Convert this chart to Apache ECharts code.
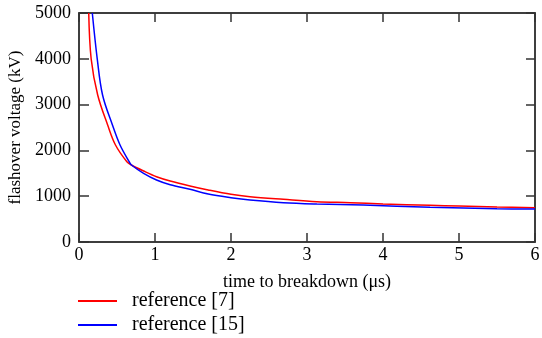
<!DOCTYPE html>
<html>
<head>
<meta charset="utf-8">
<script src="https://cdn.jsdelivr.net/npm/echarts@6/dist/echarts.min.js"></script>
<style>
  html, body { margin: 0; padding: 0; background: #fff; }
  #chart { width: 542px; height: 338px; }
</style>
</head>
<body>
<div id="chart"></div>
<script>
// values
const ref7T = [0.128, 0.16, 0.246, 0.377, 0.48, 0.63, 0.69, 0.85, 1.02, 1.2, 1.46, 1.7, 2.0, 2.25, 2.69, 3.13, 3.57, 4.0, 4.62, 5.0, 5.5, 6.0];
const ref7V = [5000, 4000, 3210, 2555, 2118, 1753, 1681, 1550, 1426, 1332, 1223, 1135, 1041, 990, 932, 880, 858, 830, 801, 785, 764, 750];

const ref15T = [0.175, 0.24, 0.31, 0.44, 0.54, 0.66, 0.69, 0.85, 1.02, 1.2, 1.46, 1.7, 2.0, 2.25, 2.69, 3.13, 3.74, 4.62, 5.5, 6.0];
const ref15V = [5000, 4000, 3210, 2555, 2118, 1753, 1681, 1500, 1354, 1250, 1150, 1048, 968, 917, 858, 830, 808, 758, 727, 720];

const seriesNames = ['reference [7]', 'reference [15]'];

const font = 'Liberation Serif';
const axisColor = '#333';

const chart = echarts.init(document.getElementById('chart'));

const zip = (xs, ys) => xs.map((x, i) => [x, ys[i]]);

// plain frame axes (top / right) with inside ticks, no labels
const frameAxis = (extra) => Object.assign({
  type: 'value',
  show: true,
  axisLine: {show: true, onZero: false, lineStyle: {color: axisColor, width: 1.5}},
  axisTick: {show: true, inside: true, length: 9, lineStyle: {color: axisColor, width: 1.5}},
  axisLabel: {show: false},
  splitLine: {show: false}
}, extra);

const option = {
  animation: false,
  grid: {
    left: 79, right: 7, top: 13, bottom: 96,
    outerBoundsMode: 'none', containLabel: false,
    show: true, borderColor: axisColor, borderWidth: 1.5
  },
  textStyle: {fontFamily: font},
  legend: {
    orient: 'vertical',
    left: 78,
    top: 291,
    padding: 0,
    itemWidth: 39,
    itemHeight: 2,
    itemGap: 4,
    icon: 'rect',
    textStyle: {fontFamily: font, fontSize: 20, color: '#000', padding: [0, 0, 0, 10], lineHeight: 20},
    data: seriesNames
  },
  xAxis: [
    {
      type: 'value', min: 0, max: 6, interval: 1,
      name: 'time to breakdown (μs)',
      nameLocation: 'middle',
      nameGap: 31,
      nameTextStyle: {fontFamily: font, fontSize: 18, color: '#000'},
      axisLine: {onZero: false, lineStyle: {color: axisColor, width: 1.5}},
      axisTick: {show: true, inside: true, length: 9, lineStyle: {color: axisColor, width: 1.5}},
      axisLabel: {fontFamily: font, fontSize: 18, color: '#000', margin: 4, showMaxLabel: true},
      splitLine: {show: false}
    },
    frameAxis({min: 0, max: 6, interval: 1, position: 'top'})
  ],
  yAxis: [
    {
      type: 'value', min: 0, max: 5000, interval: 1000,
      name: 'flashover voltage (kV)',
      nameLocation: 'middle',
      nameGap: 52,
      nameTextStyle: {fontFamily: font, fontSize: 17, color: '#000'},
      axisLine: {show: true, onZero: false, lineStyle: {color: axisColor, width: 1.5}},
      axisTick: {show: true, inside: true, length: 10, lineStyle: {color: axisColor, width: 1.5}},
      axisLabel: {fontFamily: font, fontSize: 18, color: '#000', margin: 8, formatter: (v) => String(v)},
      splitLine: {show: false}
    },
    frameAxis({min: 0, max: 5000, interval: 1000, position: 'right'})
  ],
  series: [
    {
      name: seriesNames[0],
      type: 'line',
      data: zip(ref7T, ref7V),
      smooth: 0.35,
      showSymbol: false,
      symbol: 'none',
      color: '#ff0000',
      lineStyle: {color: '#ff0000', width: 1.5}
    },
    {
      name: seriesNames[1],
      type: 'line',
      data: zip(ref15T, ref15V),
      smooth: 0.35,
      showSymbol: false,
      symbol: 'none',
      color: '#0000ff',
      lineStyle: {color: '#0000ff', width: 1.5}
    },
    {
      // empty series so the top / right frame axes get drawn
      type: 'line',
      xAxisIndex: 1,
      yAxisIndex: 1,
      data: [],
      silent: true
    }
  ]
};

option && chart.setOption(option);
</script>
</body>
</html>
